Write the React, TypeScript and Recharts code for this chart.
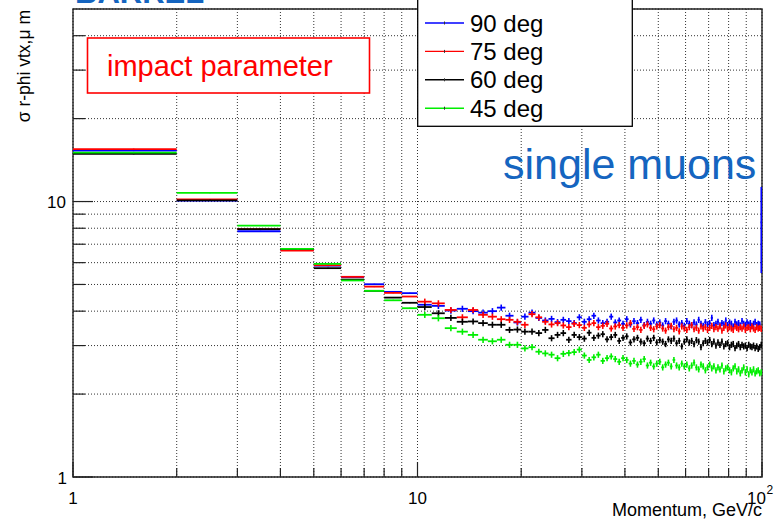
import {
  ScatterChart,
  Scatter,
  XAxis,
  YAxis,
  CartesianGrid,
  ErrorBar,
  ReferenceArea,
  Legend,
} from 'recharts'

const FONT = '"Liberation Sans", Arial, Helvetica, sans-serif'

// momentum bins are 1 GeV/c wide, from 1 to 100; points sit at the bin centres
const momentum = Array.from({ length: 99 }, (_, i) => i + 1.5)
const halfBin = 0.5

// sigma of the r-phi impact parameter, um, one value per momentum bin
const sigma90 = [
  15.3, 10.08, 7.8, 6.68, 5.85, 5.32, 5.01, 4.7, 4.65, 4.22,
  4.18, 4.02, 4.08, 4.0, 3.95, 4.0, 4.12, 3.85, 3.64, 3.82,
  3.95, 3.78, 3.7, 3.75, 3.65, 3.72, 3.68, 3.62, 3.8, 3.66,
  3.74, 3.85, 3.7, 3.62, 3.66, 3.82, 3.64, 3.7, 3.6, 3.74,
  3.58, 3.68, 3.62, 3.72, 3.56, 3.66, 3.6, 3.7, 3.58, 3.64,
  3.55, 3.68, 3.6, 3.52, 3.66, 3.7, 3.58, 3.62, 3.54, 3.68,
  3.6, 3.56, 3.64, 3.58, 3.72, 3.6, 3.54, 3.65, 3.58, 3.62,
  3.78, 3.56, 3.6, 3.66, 3.55, 3.62, 3.58, 3.7, 3.56, 3.64,
  3.6, 3.52, 3.66, 3.58, 3.62, 3.55, 3.68, 3.6, 3.56, 3.64,
  3.58, 3.62, 3.54, 3.6, 3.66, 3.56, 3.6, 3.58, 8.4,
]

const sigma75 = [
  15.5, 10.18, 7.94, 6.64, 5.87, 5.33, 4.91, 4.66, 4.52, 4.33,
  4.27, 4.04, 3.8, 4.04, 3.88, 3.82, 3.74, 3.72, 3.66, 3.57,
  3.9, 3.8, 3.66, 3.58, 3.62, 3.55, 3.5, 3.6, 3.56, 3.48,
  3.58, 3.62, 3.5, 3.54, 3.6, 3.46, 3.52, 3.56, 3.48, 3.55,
  3.62, 3.45, 3.5, 3.42, 3.54, 3.58, 3.48, 3.44, 3.52, 3.56,
  3.46, 3.4, 3.5, 3.54, 3.44, 3.48, 3.38, 3.52, 3.46, 3.42,
  3.5, 3.56, 3.44, 3.48, 3.4, 3.52, 3.46, 3.5, 3.42, 3.48,
  3.54, 3.44, 3.5, 3.46, 3.52, 3.4, 3.48, 3.55, 3.44, 3.5,
  3.46, 3.42, 3.52, 3.48, 3.44, 3.5, 3.46, 3.52, 3.42, 3.48,
  3.5, 3.44, 3.52, 3.46, 3.42, 3.5, 3.46, 3.48, 3.45,
]

const sigma60 = [
  14.9, 10.1, 7.94, 6.73, 5.73, 5.21, 4.74, 4.48, 4.29, 4.14,
  3.93, 3.78, 3.66, 3.67, 3.62, 3.57, 3.57, 3.42, 3.43, 3.37,
  3.37, 3.33, 3.42, 3.19, 3.28, 3.33, 3.15, 3.28, 3.22, 3.18,
  3.34, 3.2, 3.26, 3.3, 3.16, 3.22, 3.28, 3.12, 3.2, 3.24,
  3.08, 3.16, 3.2, 3.1, 3.06, 3.18, 3.12, 3.2, 3.08, 3.14,
  3.1, 3.04, 3.16, 3.12, 3.18, 3.06, 3.12, 2.98, 3.1, 3.16,
  3.08, 3.12, 3.04, 3.14, 3.1, 2.96, 3.06, 3.12, 3.08, 3.14,
  3.04, 3.1, 3.0, 3.08, 3.02, 3.1, 2.98, 3.04, 3.06, 2.96,
  3.02, 3.04, 2.94, 3.0, 3.04, 2.96, 3.02, 2.98, 3.0, 2.94,
  3.02, 2.98, 2.96, 3.0, 2.94, 2.98, 2.92, 2.96, 3.02,
]

const sigma45 = [
  15.05, 10.75, 8.18, 6.73, 5.94, 5.17, 4.74, 4.38, 4.1, 3.88,
  3.77, 3.47, 3.37, 3.28, 3.15, 3.11, 3.15, 3.02, 3.02, 2.93,
  2.96, 2.85, 2.81, 2.78, 2.7, 2.8, 2.82, 2.84, 2.9, 2.76,
  2.66, 2.72, 2.78, 2.64, 2.7, 2.74, 2.68, 2.62, 2.7, 2.66,
  2.58, 2.64, 2.56, 2.62, 2.68, 2.54, 2.6, 2.52, 2.58, 2.62,
  2.5, 2.56, 2.6, 2.52, 2.66, 2.54, 2.5, 2.58, 2.52, 2.56,
  2.48, 2.54, 2.6, 2.5, 2.46, 2.56, 2.52, 2.44, 2.5, 2.56,
  2.48, 2.52, 2.44, 2.5, 2.46, 2.54, 2.42, 2.48, 2.5, 2.44,
  2.4, 2.48, 2.52, 2.42, 2.46, 2.38, 2.44, 2.5, 2.4, 2.46,
  2.36, 2.44, 2.4, 2.46, 2.38, 2.42, 2.44, 2.38, 2.4,
]

// relative statistical error below / above 10 GeV/c
const relErrLowP = 0.004
const relErrHighP = 0.026
// the last 90 deg bin holds only a few tracks
const lastBinErr90 = 2.9

const xTicks = [1, 2, 3, 4, 5, 6, 7, 8, 9, 10, 20, 30, 40, 50, 60, 70, 80, 90, 100]
const yTicks = [1, 2, 3, 4, 5, 6, 7, 8, 9, 10, 20, 30, 40]

const series = [
  { name: '90 deg', color: '#0000ff', values: sigma90, lastErr: lastBinErr90 },
  { name: '75 deg', color: '#ff0000', values: sigma75 },
  { name: '60 deg', color: '#000000', values: sigma60 },
  { name: '45 deg', color: '#00ee00', values: sigma45 },
]

const toPoints = (values: number[], lastErr?: number) =>
  values.map((v, i) => ({
    x: momentum[i],
    y: v,
    ex: halfBin,
    ey:
      lastErr !== undefined && i === values.length - 1
        ? lastErr
        : v * (momentum[i] < 10 ? relErrLowP : relErrHighP),
  }))

// ROOT-style ticks: drawn inward, labels only on decades
const XTick = (props: any) => {
  const { x, y, payload } = props
  const v = payload.value
  const major = v === 1 || v === 10 || v === 100
  return (
    <g>
      <line x1={x} x2={x} y1={y} y2={y - (major ? 15 : 9)} stroke="#222" strokeWidth={1.2} />
      {v === 1 && (
        <text x={x} y={y + 27} textAnchor="middle" fontSize={17} fontFamily={FONT} fill="#000">
          1
        </text>
      )}
      {v === 10 && (
        <text x={x} y={y + 27} textAnchor="middle" fontSize={17} fontFamily={FONT} fill="#000">
          10
        </text>
      )}
      {v === 100 && (
        <g fontFamily={FONT} fill="#000">
          <text x={x + 4} y={y + 27} textAnchor="end" fontSize={17}>
            10
          </text>
          <text x={x + 4.5} y={y + 17} fontSize={12}>
            2
          </text>
        </g>
      )}
    </g>
  )
}

const YTick = (props: any) => {
  const { x, y, payload } = props
  const v = payload.value
  const major = v === 1 || v === 10
  return (
    <g>
      <line x1={x} x2={x + (major ? 20 : 12)} y1={y} y2={y} stroke="#222" strokeWidth={1.2} />
      {v === 10 && (
        <text x={x - 7} y={y + 6} textAnchor="end" fontSize={17} fontFamily={FONT} fill="#000">
          10
        </text>
      )}
      {v === 1 && (
        <text x={x - 6} y={y + 7} textAnchor="end" fontSize={17} fontFamily={FONT} fill="#000">
          1
        </text>
      )}
    </g>
  )
}

const LegendBox = () => (
  <svg width={216} height={133} style={{ display: 'block' }}>
    <rect x={0.7} y={0.7} width={214.6} height={131.6} fill="#fff" stroke="#000" strokeWidth={1.3} />
    {series.map((s, i) => {
      const cy = 29 + i * 28.4
      return (
        <g key={s.name}>
          <line x1={8} x2={47} y1={cy} y2={cy} stroke={s.color} strokeWidth={1.4} />
          <line x1={27.5} x2={27.5} y1={cy - 1.5} y2={cy + 1.5} stroke="#333" strokeWidth={1} />
          <text x={53} y={cy + 8.5} fontSize={24} fontFamily={FONT} fill="#000">
            {s.name}
          </text>
        </g>
      )
    })}
  </svg>
)

const noMarker = () => <g />

export default function App() {
  return (
    <div style={{ position: 'absolute', left: 0, top: 0, width: 784, height: 520, background: '#fff' }}>
      <ScatterChart width={784} height={520} margin={{ top: 9, right: 22, bottom: 33, left: 63 }}>
        <CartesianGrid stroke="#333" strokeDasharray="1 2" strokeWidth={1} />
        <XAxis
          type="number"
          dataKey="x"
          scale="log"
          domain={[1, 100]}
          allowDataOverflow
          ticks={xTicks}
          interval={0}
          tick={<XTick />}
          tickLine={false}
          axisLine={false}
          tickSize={0}
          tickMargin={0}
          height={10}
        />
        <YAxis
          type="number"
          dataKey="y"
          scale="log"
          domain={[1, 50]}
          allowDataOverflow
          ticks={yTicks}
          interval={0}
          tick={<YTick />}
          tickLine={false}
          axisLine={false}
          tickSize={0}
          tickMargin={0}
          width={10}
        />
        {series.map((s) => (
          <Scatter
            key={s.name}
            name={s.name}
            data={toPoints(s.values, s.lastErr)}
            fill={s.color}
            shape={noMarker}
            isAnimationActive={false}
          >
            <ErrorBar dataKey="ex" direction="x" width={0} stroke={s.color} strokeWidth={1.8} isAnimationActive={false} />
            <ErrorBar dataKey="ey" direction="y" width={0} stroke={s.color} strokeWidth={1.6} isAnimationActive={false} />
          </Scatter>
        ))}
        <ReferenceArea x1={1} x2={100} y1={1} y2={50} fill="none" stroke="#222" strokeWidth={1.4} />
        <Legend
          content={<LegendBox />}
          layout="horizontal"
          verticalAlign="middle"
          align="center"
          wrapperStyle={{ left: 417, top: -6, width: 216, height: 133 }}
        />
      </ScatterChart>
      <svg
        width={784}
        height={520}
        style={{ position: 'absolute', left: 0, top: 0, pointerEvents: 'none' }}
        fontFamily={FONT}
      >
        <text x={75} y={2.5} fontSize={31} fontWeight="bold" fill="#1565c0">
          BARREL
        </text>
        <rect x={87.5} y={38} width={282} height={55} fill="#fff" stroke="#ff0000" strokeWidth={1.6} />
        <text x={107} y={76} fontSize={29} fill="#ff0000">
          impact parameter
        </text>
        <text x={503} y={179} fontSize={43} fill="#1565c0">
          single muons
        </text>
        <text x={762} y={516} textAnchor="end" fontSize={18} fill="#000">
          Momentum, GeV/c
        </text>
        <text transform="rotate(-90)" x={-10} y={29.5} textAnchor="end" fontSize={17.5} fill="#000">
          σ r-phi vtx,μ m
        </text>
      </svg>
    </div>
  )
}
